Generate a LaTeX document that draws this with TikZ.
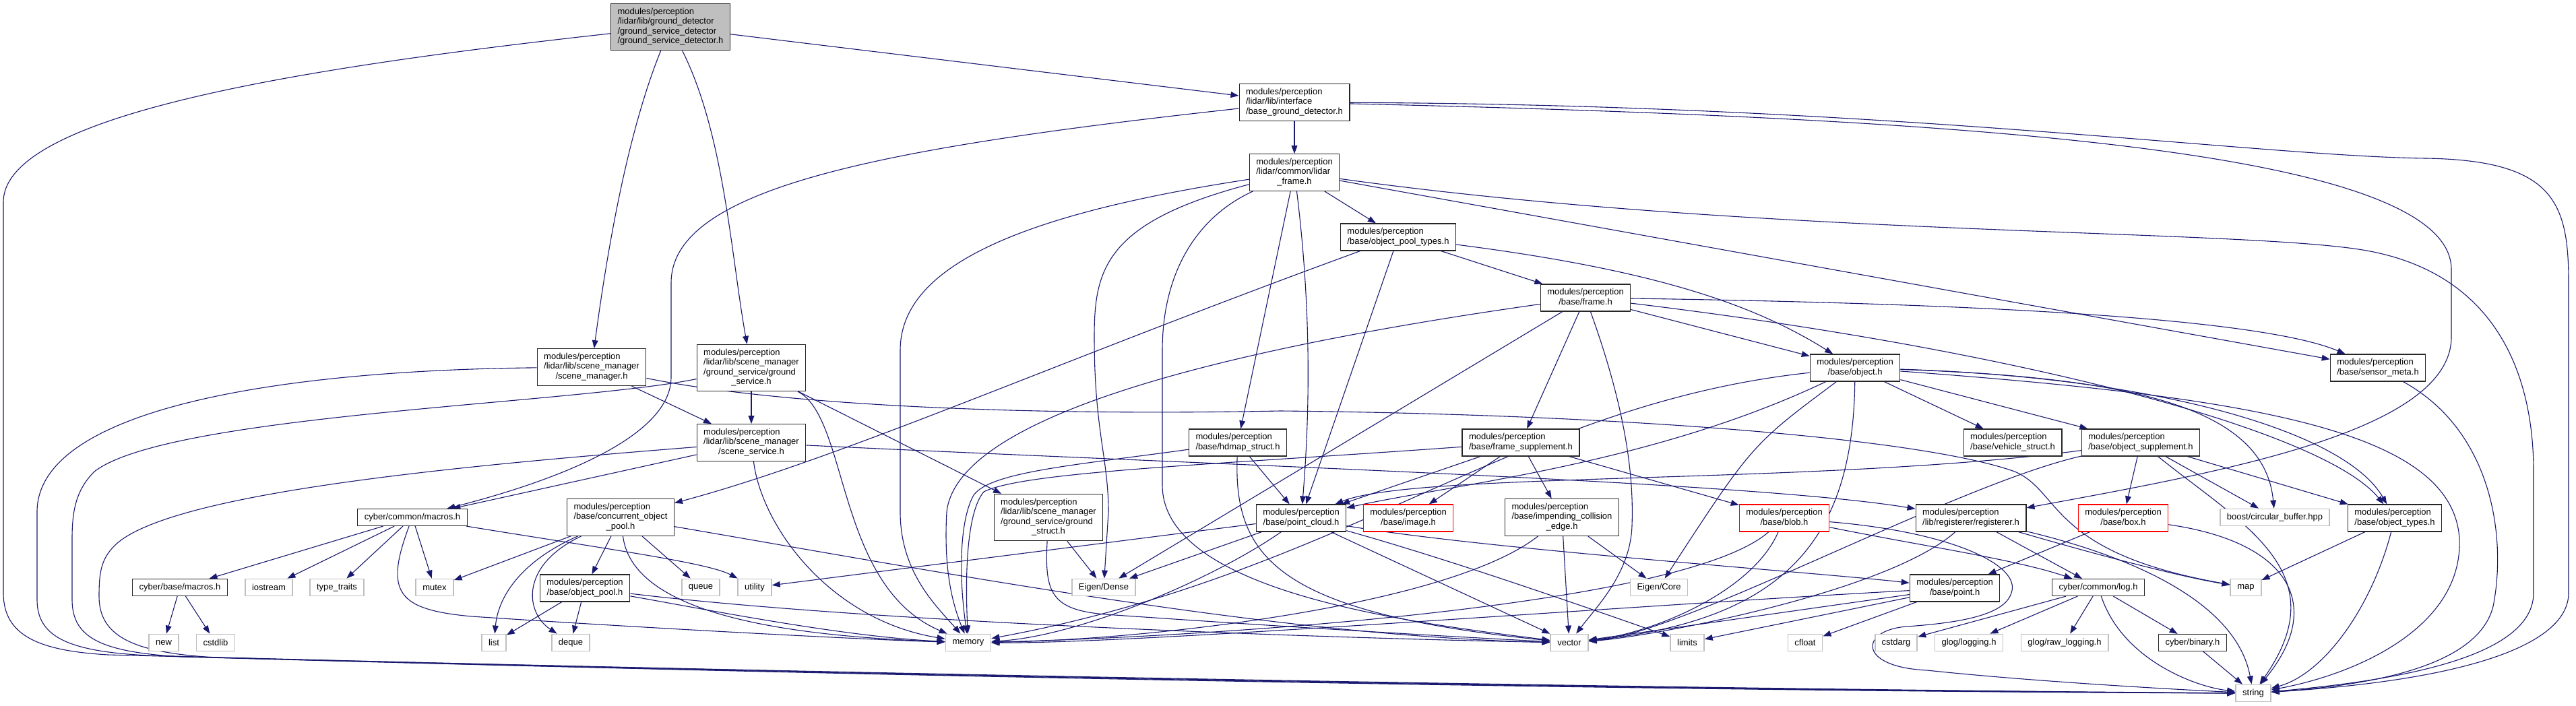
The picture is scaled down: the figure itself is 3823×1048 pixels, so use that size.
\documentclass[tikz,border=0pt]{standalone}
\usepackage{fontspec}
\setmainfont{Liberation Sans}
\usetikzlibrary{arrows.meta, backgrounds}
\definecolor{dxblue}{HTML}{191970}
\definecolor{dxgray}{HTML}{BFBFBF}
% file name box: all lines left, last line centred
\newcommand{\hdr}[2]{\begin{tabular}{@{}l@{}}#1\\\multicolumn{1}{@{}c@{}}{#2}\end{tabular}}

\begin{document}
\begin{tikzpicture}[
    x=0.5pt, y=-0.5pt,
    hfile/.style={draw=black!85, fill=white, line width=0.6pt,
                inner xsep=5pt, inner ysep=2.7pt, minimum height=12.5pt,
                font=\fontsize{6.5}{7.3}\selectfont},
    sysfile/.style={hfile, draw=dxgray, line width=0.9pt},
    redfile/.style={hfile, draw=red},
    topfile/.style={hfile, fill=dxgray},
    arr/.style={draw=dxblue, line width=0.55pt,
                -{Triangle[length=6pt, width=4.4pt]}},
  ]
    \useasboundingbox (0,0) rectangle (3823,1048);

    % Top file and interface
    \node[topfile] (main) at (995, 40)
      {\hdr{modules/perception\\/lidar/lib/ground\_detector\\/ground\_service\_detector}{/ground\_service\_detector.h}};
    \node[hfile] (bgd) at (1921, 152)
      {\hdr{modules/perception\\/lidar/lib/interface}{/base\_ground\_detector.h}};
    \node[hfile] (lframe) at (1921, 256)
      {\hdr{modules/perception\\/lidar/common/lidar}{\_frame.h}};
    \node[hfile] (optypes) at (2075, 352)
      {\hdr{modules/perception}{/base/object\_pool\_types.h}};
    \node[hfile] (frame) at (2353, 442) {\hdr{modules/perception}{/base/frame.h}};

    % Middle rows
    \node[hfile] (smgr) at (878, 545)
      {\hdr{modules/perception\\/lidar/lib/scene\_manager}{/scene\_manager.h}};
    \node[hfile] (gsvc) at (1115, 546)
      {\hdr{modules/perception\\/lidar/lib/scene\_manager\\/ground\_service/ground}{\_service.h}};
    \node[hfile] (object) at (2753, 546) {\hdr{modules/perception}{/base/object.h}};
    \node[hfile] (smeta) at (3529, 546) {\hdr{modules/perception}{/base/sensor\_meta.h}};
    \node[hfile] (ssvc) at (1115, 657)
      {\hdr{modules/perception\\/lidar/lib/scene\_manager}{/scene\_service.h}};
    \node[hfile] (hdmap) at (1837, 657) {\hdr{modules/perception}{/base/hdmap\_struct.h}};
    \node[hfile] (fsupp) at (2257, 657) {\hdr{modules/perception}{/base/frame\_supplement.h}};
    \node[hfile] (vstruct) at (2987, 657) {\hdr{modules/perception}{/base/vehicle\_struct.h}};
    \node[hfile] (osupp) at (3177, 657) {\hdr{modules/perception}{/base/object\_supplement.h}};

    \node[hfile] (cmacros) at (612, 768) {cyber/common/macros.h};
    \node[hfile] (cpool) at (921, 768)
      {\hdr{modules/perception\\/base/concurrent\_object}{\_pool.h}};
    \node[hfile] (gstruct) at (1556, 768)
      {\hdr{modules/perception\\/lidar/lib/scene\_manager\\/ground\_service/ground}{\_struct.h}};
    \node[hfile] (pcloud) at (1931, 769) {\hdr{modules/perception}{/base/point\_cloud.h}};
    \node[redfile] (image) at (2090, 769) {\hdr{modules/perception}{/base/image.h}};
    \node[hfile] (impend) at (2318, 768)
      {\hdr{modules/perception\\/base/impending\_collision}{\_edge.h}};
    \node[redfile] (blob) at (2648, 769) {\hdr{modules/perception}{/base/blob.h}};
    \node[hfile] (reg) at (2925, 769) {\hdr{modules/perception}{/lib/registerer/registerer.h}};
    \node[redfile] (box) at (3151, 769) {\hdr{modules/perception}{/base/box.h}};
    \node[sysfile] (boost) at (3376, 768) {boost/circular\_buffer.hpp};
    \node[hfile] (otypes) at (3554, 769) {\hdr{modules/perception}{/base/object\_types.h}};

    \node[hfile] (bmacros) at (267, 872) {cyber/base/macros.h};
    \node[sysfile] (iostream) at (399, 872) {iostream};
    \node[sysfile] (typetraits) at (500, 872) {type\_traits};
    \node[sysfile] (mutex) at (645, 872) {mutex};
    \node[hfile] (opool) at (868, 873) {\hdr{modules/perception}{/base/object\_pool.h}};
    \node[sysfile] (queue) at (1040, 872) {queue};
    \node[sysfile] (utility) at (1120, 872) {utility};
    \node[sysfile] (edense) at (1638, 872) {Eigen/Dense};
    \node[sysfile] (ecore) at (2462, 872) {Eigen/Core};
    \node[hfile] (point) at (2901, 873) {\hdr{modules/perception}{/base/point.h}};
    \node[hfile] (log) at (3114, 872) {cyber/common/log.h};
    \node[sysfile] (map) at (3333, 872) {map};

    % Leaf headers
    \node[sysfile] (new) at (243, 954) {new};
    \node[sysfile] (cstdlib) at (320, 954) {cstdlib};
    \node[sysfile] (list) at (733, 954) {list};
    \node[sysfile] (deque) at (847, 954) {deque};
    \node[sysfile] (memory) at (1437, 954) {memory};
    \node[sysfile] (vector) at (2329, 954) {vector};
    \node[sysfile] (limits) at (2504, 954) {limits};
    \node[sysfile] (cfloat) at (2679, 954) {cfloat};
    \node[sysfile] (cstdarg) at (2814, 954) {cstdarg};
    \node[sysfile] (glogging) at (2922, 954) {glog/logging.h};
    \node[sysfile] (graw) at (3064, 954) {glog/raw\_logging.h};
    \node[hfile] (binary) at (3254, 954) {cyber/binary.h};
    \node[sysfile] (string) at (3344, 1029) {string};

  \begin{scope}[on background layer]
    \fill[white] (0,0) rectangle (3823,1048);

    % ground_service_detector.h
    \draw[arr] (main) -- (bgd);
    \draw[arr] (main) .. controls (930,200) and (900,380) .. (smgr);
    \draw[arr] (main) .. controls (1075,200) and (1085,380) .. (gsvc);
    \draw[arr] (main) .. controls (450,100) and (5,170) .. (5,300) -- (5,880)
      .. controls (5,945) and (60,966) .. (160,972)
      .. controls (1400,1004) and (2600,1024) .. (string);

    % base_ground_detector.h
    \draw[arr] (bgd) -- (lframe);
    \draw[arr] (bgd) .. controls (1300,220) and (996,280) .. (996,420) -- (996,560)
      .. controls (996,650) and (820,715) .. (cmacros);
    \draw[arr] (bgd) .. controls (2900,175) and (3638,220) .. (3638,400) -- (3638,500)
      .. controls (3638,640) and (3300,700) .. (reg);
    \draw[arr] (bgd) .. controls (2800,155) and (3350,232) .. (3600,235)
      .. controls (3790,238) and (3812,300) .. (3812,420) -- (3812,880)
      .. controls (3812,960) and (3650,1010) .. (string);

    % lidar_frame.h
    \draw[arr] (lframe) -- (optypes);
    \draw[arr] (lframe) -- (hdmap);
    \draw[arr] (lframe) .. controls (1945,450) and (1945,600) .. (pcloud);
    \draw[arr] (lframe) -- (smeta);
    \draw[arr] (lframe) .. controls (1640,330) and (1624,400) .. (1624,500)
      .. controls (1624,640) and (1645,680) .. (1645,760) -- (edense);
    \draw[arr] (lframe) .. controls (1500,320) and (1336,400) .. (1336,520) -- (1336,760)
      .. controls (1336,850) and (1390,900) .. (memory);
    \draw[arr] (lframe) .. controls (1780,320) and (1725,400) .. (1725,520) -- (1725,720)
      .. controls (1725,880) and (2100,925) .. (vector);
    \draw[arr] (lframe) .. controls (2600,350) and (3300,340) .. (3500,370)
      .. controls (3700,400) and (3760,550) .. (3760,700) -- (3760,880)
      .. controls (3760,960) and (3620,1005) .. (string);

    % object_pool_types.h
    \draw[arr] (optypes) .. controls (1560,540) and (1250,680) .. (cpool);
    \draw[arr] (optypes) -- (frame);
    \draw[arr] (optypes) .. controls (2450,400) and (2600,450) .. (object);
    \draw[arr] (optypes) -- (pcloud);

    % frame.h
    \draw[arr] (frame) -- (fsupp);
    \draw[arr] (frame) -- (object);
    \draw[arr] (frame) .. controls (2900,450) and (3350,470) .. (smeta);
    \draw[arr] (frame) .. controls (3000,520) and (3450,640) .. (otypes);
    \draw[arr] (frame) .. controls (2410,600) and (2425,700) .. (2422,780)
      .. controls (2420,850) and (2370,900) .. (vector);
    \draw[arr] (frame) -- (edense);
    \draw[arr] (frame) .. controls (1800,520) and (1420,620) .. (1405,760)
      .. controls (1400,850) and (1415,900) .. (memory);

    % object.h
    \draw[arr] (object) -- (vstruct);
    \draw[arr] (object) -- (osupp);
    \draw[arr] (object) .. controls (3200,560) and (3480,640) .. (otypes);
    \draw[arr] (object) .. controls (3150,560) and (3360,600) .. (boost);
    \draw[arr] (object) .. controls (3350,590) and (3640,640) .. (3650,800)
      .. controls (3655,930) and (3500,1000) .. (string);
    \draw[arr] (object) .. controls (2600,660) .. (ecore);
    \draw[arr] (object) .. controls (2450,690) and (2150,720) .. (pcloud);
    \draw[arr] (object) .. controls (2750,800) and (2650,920) .. (vector);
    \draw[arr] (object) .. controls (2250,600) and (2000,850) .. (memory);

    % frame_supplement.h and hdmap_struct.h
    \draw[arr] (fsupp) -- (pcloud);
    \draw[arr] (fsupp) -- (image);
    \draw[arr] (fsupp) -- (impend);
    \draw[arr] (fsupp) -- (blob);
    \draw[arr] (fsupp) .. controls (1800,690) and (1520,700) .. (1460,730)
      .. controls (1435,760) and (1432,850) .. (memory);
    \draw[arr] (hdmap) -- (pcloud);
    \draw[arr] (hdmap) .. controls (1830,830) and (1900,910) .. (vector);
    \draw[arr] (hdmap) .. controls (1600,690) and (1470,700) .. (1445,735)
      .. controls (1425,770) and (1422,850) .. (memory);

    % scene manager files
    \draw[arr] (smgr) -- (ssvc);
    \draw[arr] (smgr) .. controls (1150,600) and (1500,618) .. (1900,610)
      .. controls (2400,615) and (2850,650) .. (2990,700)
      .. controls (3060,730) and (3040,820) .. (map);
    \draw[arr] (smgr) .. controls (400,550) and (55,610) .. (55,760) -- (55,890)
      .. controls (55,945) and (100,967) .. (220,973)
      .. controls (1400,1005) and (2600,1025) .. (string);
    \draw[arr] (gsvc) -- (ssvc);
    \draw[arr] (gsvc) -- (gstruct);
    \draw[arr] (gsvc) .. controls (1260,620) and (1240,870) .. (memory);
    \draw[arr] (gsvc) .. controls (850,600) and (250,615) .. (140,700)
      .. controls (112,728) and (107,760) .. (107,800) -- (107,890)
      .. controls (107,947) and (150,968) .. (270,975)
      .. controls (1400,1006) and (2600,1026) .. (string);
    \draw[arr] (ssvc) -- (cmacros);
    \draw[arr] (ssvc) .. controls (1800,690) and (2600,715) .. (reg);
    \draw[arr] (ssvc) .. controls (1130,780) and (1230,920) .. (memory);
    \draw[arr] (ssvc) .. controls (700,690) and (250,730) .. (170,810)
      .. controls (150,830) and (147,850) .. (147,885)
      .. controls (147,946) and (200,969) .. (320,976)
      .. controls (1400,1007) and (2600,1027) .. (string);

    % cyber macros and pools
    \draw[arr] (cmacros) -- (bmacros);
    \draw[arr] (cmacros) -- (iostream);
    \draw[arr] (cmacros) -- (typetraits);
    \draw[arr] (cmacros) -- (mutex);
    \draw[arr] (cmacros) .. controls (900,815) and (1050,835) .. (utility);
    \draw[arr] (cmacros) .. controls (570,880) and (590,905) .. (700,915)
      .. controls (1000,935) and (1300,950) .. (memory);
    \draw[arr] (bmacros) -- (new);
    \draw[arr] (bmacros) -- (cstdlib);
    \draw[arr] (cpool) -- (opool);
    \draw[arr] (cpool) -- (mutex);
    \draw[arr] (cpool) -- (queue);
    \draw[arr] (cpool) .. controls (780,830) and (740,880) .. (list);
    \draw[arr] (cpool) .. controls (770,840) and (780,910) .. (deque);
    \draw[arr] (cpool) .. controls (940,920) and (1200,945) .. (memory);
    \draw[arr] (cpool) .. controls (1400,850) and (1900,945) .. (vector);
    \draw[arr] (opool) -- (list);
    \draw[arr] (opool) -- (deque);
    \draw[arr] (opool) .. controls (1050,905) and (1250,945) .. (memory);
    \draw[arr] (opool) .. controls (1300,925) and (2000,948) .. (vector);
    \draw[arr] (gstruct) -- (edense);
    \draw[arr] (gstruct) .. controls (1550,880) and (1560,905) .. (1640,912)
      .. controls (1900,930) and (2150,945) .. (vector);

    % point_cloud.h and friends
    \draw[arr] (pcloud) .. controls (2200,815) and (2700,850) .. (point);
    \draw[arr] (pcloud) -- (edense);
    \draw[arr] (pcloud) -- (utility);
    \draw[arr] (pcloud) .. controls (1800,860) and (1600,945) .. (memory);
    \draw[arr] (pcloud) -- (vector);
    \draw[arr] (pcloud) .. controls (2150,830) and (2350,900) .. (limits);
    \draw[arr] (impend) -- (vector);
    \draw[arr] (impend) -- (ecore);
    \draw[arr] (impend) .. controls (2150,900) and (1700,950) .. (memory);
    \draw[arr] (blob) .. controls (2600,880) and (2450,940) .. (vector);
    \draw[arr] (blob) .. controls (2500,900) and (1800,945) .. (memory);
    \draw[arr] (blob) .. controls (2850,810) and (2990,830) .. (log);
    \draw[arr] (blob) .. controls (2900,790) and (3000,840) .. (2985,880)
      .. controls (2975,915) and (2900,925) .. (2830,930)
      .. controls (2760,935) and (2755,990) .. (2860,995)
      .. controls (3000,1010) and (3200,1022) .. (string);

    % registerer.h, object_supplement.h, ...
    \draw[arr] (reg) -- (log);
    \draw[arr] (reg) .. controls (3100,820) and (3230,855) .. (map);
    \draw[arr] (reg) .. controls (3180,830) and (3320,900) .. (string);
    \draw[arr] (reg) .. controls (2800,880) and (2450,945) .. (vector);
    \draw[arr] (osupp) -- (box);
    \draw[arr] (osupp) -- (boost);
    \draw[arr] (osupp) -- (otypes);
    \draw[arr] (osupp) .. controls (3330,780) and (3470,850) .. (string);
    \draw[arr] (osupp) .. controls (2700,720) and (2100,700) .. (pcloud);
    \draw[arr] (osupp) .. controls (2900,720) and (2500,940) .. (vector);
    \draw[arr] (box) -- (point);
    \draw[arr] (box) .. controls (3400,805) and (3450,900) .. (string);
    \draw[arr] (otypes) -- (map);
    \draw[arr] (otypes) .. controls (3520,900) and (3450,1000) .. (string);
    \draw[arr] (smeta) .. controls (3700,640) and (3720,800) .. (3700,900)
      .. controls (3680,980) and (3550,1015) .. (string);
    \draw[arr] (point) -- (vector);
    \draw[arr] (point) -- (limits);
    \draw[arr] (point) -- (cfloat);
    \draw[arr] (point) .. controls (2400,900) and (1700,955) .. (memory);
    \draw[arr] (log) -- (glogging);
    \draw[arr] (log) -- (graw);
    \draw[arr] (log) -- (binary);
    \draw[arr] (log) -- (cstdarg);
    \draw[arr] (log) .. controls (3150,980) and (3260,1020) .. (string);
    \draw[arr] (binary) -- (string);
  \end{scope}
\end{tikzpicture}
\end{document}
